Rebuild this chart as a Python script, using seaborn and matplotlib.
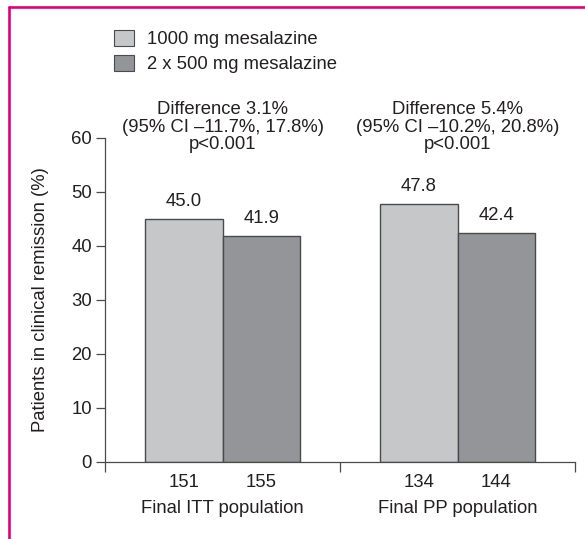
#!/usr/bin/env python3
"""Clinical remission bar chart: 1000 mg vs 2 x 500 mg mesalazine."""

import pandas as pd
import matplotlib
matplotlib.use("Agg")
import matplotlib.pyplot as plt
from matplotlib.lines import Line2D
from matplotlib.patches import Patch
import matplotlib.transforms as mtransforms
import seaborn as sns


# ---------------------------------------------------------------------------
# Data
# ---------------------------------------------------------------------------
POPULATIONS = ["Final ITT population", "Final PP population"]
DOSES = ["1000 mg mesalazine", "2 x 500 mg mesalazine"]
REMISSION_1000 = [45.0, 47.8]
REMISSION_2X500 = [41.9, 42.4]
N_1000 = [151, 134]
N_2X500 = [155, 144]
DIFF_TEXT = [
    "Difference 3.1%\n(95% CI \u201311.7%, 17.8%)\np<0.001",
    "Difference 5.4%\n(95% CI \u201310.2%, 20.8%)\np<0.001",
]

COLORS = ["#c6c7c9", "#939598"]
EDGE = "#4a4a4a"
TEXT = "#231f20"
BORDER = "#e2007a"
FS = 13.3

sns.set_style("white")
plt.rcParams["font.family"] = ["Liberation Sans", "DejaVu Sans"]
plt.rcParams["text.color"] = TEXT
plt.rcParams["axes.labelcolor"] = TEXT
plt.rcParams["xtick.color"] = TEXT
plt.rcParams["ytick.color"] = TEXT

df = pd.DataFrame({
    "population": POPULATIONS * 2,
    "dose": [DOSES[0]] * 2 + [DOSES[1]] * 2,
    "remission": REMISSION_1000 + REMISSION_2X500,
    "n": N_1000 + N_2X500,
})

W, H = 585, 539
fig = plt.figure(figsize=(W / 100, H / 100), dpi=100)
ax = fig.add_axes([105 / W, (H - 462) / H, 470 / W, 324 / H])

sns.barplot(data=df, x="population", y="remission", hue="dose",
            hue_order=DOSES, order=POPULATIONS, palette=COLORS,
            width=0.66, edgecolor=EDGE, linewidth=1.0, saturation=1,
            legend=False, ax=ax)

ax.set_xlim(-0.5, 1.5)
ax.set_ylim(0, 60)
ax.set_yticks(range(0, 61, 10))
ax.set_xticks([-0.5, 0.5, 1.5])
ax.set_xticklabels([])
ax.tick_params(axis="y", direction="out", length=6.5, width=0.9,
               labelsize=FS, pad=3, left=True, color=EDGE)
ax.tick_params(axis="x", direction="out", length=7.5, width=0.9,
               bottom=True, color=EDGE)
for side in ("top", "right"):
    ax.spines[side].set_visible(False)
for side in ("left", "bottom"):
    ax.spines[side].set_color(EDGE)
    ax.spines[side].set_linewidth(0.9)
ax.spines["left"].set_bounds(0, 60)
ax.set_xlabel("")
ax.set_ylabel("Patients in clinical remission (%)", fontsize=FS)
ax.yaxis.set_label_coords(-0.12, 0.5)

# value labels above the bars and n below the axis
trans = mtransforms.blended_transform_factory(ax.transData, ax.transAxes)
bars = [p for p in ax.patches if p.get_height() > 0]
bars = sorted(bars, key=lambda p: p.get_x())
ns = [N_1000[0], N_2X500[0], N_1000[1], N_2X500[1]]
for bar, n in zip(bars, ns):
    cx = bar.get_x() + bar.get_width() / 2
    h = bar.get_height()
    ax.annotate(f"{h:.1f}", (cx, h), xytext=(0, 12.5), textcoords="offset points",
                ha="center", va="center", fontsize=FS)
    ax.text(cx, -0.062, str(n), transform=trans, ha="center", va="center",
            fontsize=FS)

for i, (pop, diff) in enumerate(zip(POPULATIONS, DIFF_TEXT)):
    ax.text(i, -0.145, pop, transform=trans, ha="center", va="center",
            fontsize=FS)
    ax.text(i, 62.0, diff, ha="center", va="center", fontsize=FS,
            linespacing=1.05, clip_on=False)

# legend
handles = [Patch(facecolor=c, edgecolor=EDGE, linewidth=0.8) for c in COLORS]
fig.legend(handles, DOSES, loc="upper left",
           bbox_to_anchor=(114 / W, 1 - 30 / H), frameon=False,
           fontsize=FS, handlelength=1.1, handleheight=0.95,
           handletextpad=0.7, labelspacing=0.35, borderpad=0,
           borderaxespad=0)

# magenta frame (top and left)
fig.add_artist(Line2D([8.5 / W, 1], [1 - 6.5 / H, 1 - 6.5 / H],
                      transform=fig.transFigure, color=BORDER, lw=1.9))
fig.add_artist(Line2D([8.5 / W, 8.5 / W], [0, 1 - 6.5 / H],
                      transform=fig.transFigure, color=BORDER, lw=1.9))

fig.savefig("out.png", dpi=100)
plt.close(fig)
